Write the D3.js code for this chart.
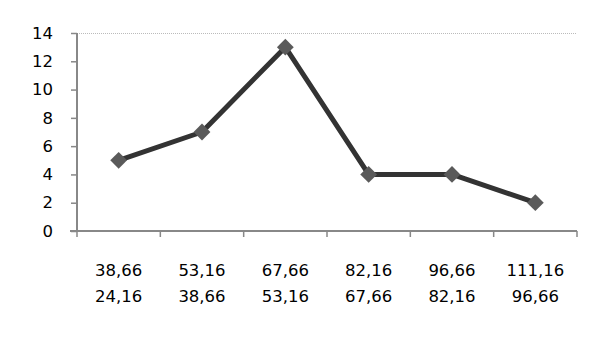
<!DOCTYPE html>
<html>
<head>
<meta charset="utf-8">
<title>chart</title>
<script src="https://cdn.jsdelivr.net/npm/d3@7"></script>
<style>
body { margin:0; background:#fff; font-family:"DejaVu Sans",Verdana,sans-serif; }
.lbl { font-size:16.5px; fill:#000; }
</style>
</head>
<body>
<svg id="chart" width="613" height="342"></svg>
<script>
// bins: upper / lower edge, count
var upper = ['38,66','53,16','67,66','82,16','96,66','111,16'];
var lower = ['24,16','38,66','53,16','67,66','82,16','96,66'];
var counts = [5, 7, 13, 4, 4, 2];
var yTicks = [0, 2, 4, 6, 8, 10, 12, 14];

var svg = d3.select('#chart');
var m = {l:77, r:36, t:33, b:111}; // plot box 77..577, 33..231
var w = 613 - m.l - m.r, h = 342 - m.t - m.b;
var g = svg.append('g').attr('transform', 'translate(' + m.l + ',' + m.t + ')');

var x = d3.scaleBand().domain(d3.range(counts.length)).range([0, w]);
var y = d3.scaleLinear().domain([0, 14]).range([h, 0]);

// top dotted gridline
g.append('line').attr('x1', 0).attr('x2', w).attr('y1', y(14) + .5).attr('y2', y(14) + .5)
  .attr('stroke', '#bbb').attr('stroke-dasharray', '1,1');

// y axis
var ya = g.append('g').call(d3.axisLeft(y).tickValues(yTicks).tickSize(6).tickPadding(18));
ya.select('.domain').attr('stroke', '#888').attr('stroke-width', 2).attr('d', 'M0,' + h + 'V0');
ya.selectAll('.tick line').attr('stroke', '#888').attr('stroke-width', 1.5);
ya.selectAll('text').attr('font-size', 16.5).attr('font-family', '"DejaVu Sans",Verdana,sans-serif').attr('fill', '#000');

// x axis, ticks at band edges
var xa = g.append('g').attr('transform', 'translate(0,' + h + ')');
xa.append('line').attr('x1', -7).attr('x2', w).attr('stroke', '#888').attr('stroke-width', 2);
xa.selectAll('line.t').data(d3.range(counts.length + 1)).enter().append('line')
  .attr('class', 't')
  .attr('x1', function(i){ return i < counts.length ? x(i) : w; })
  .attr('x2', function(i){ return i < counts.length ? x(i) : w; })
  .attr('y1', 0).attr('y2', 6).attr('stroke', '#888').attr('stroke-width', 1.5);

var cx = function(i){ return x(i) + x.bandwidth() / 2; };
xa.selectAll('text.u').data(upper).enter().append('text').attr('class', 'lbl')
  .attr('x', function(d, i){ return cx(i); }).attr('y', 45).attr('text-anchor', 'middle').text(function(d){ return d; });
xa.selectAll('text.lo').data(lower).enter().append('text').attr('class', 'lbl')
  .attr('x', function(d, i){ return cx(i); }).attr('y', 71).attr('text-anchor', 'middle').text(function(d){ return d; });

// line + diamonds
var line = d3.line().x(function(d, i){ return cx(i); }).y(function(d){ return y(d); });
g.append('path').datum(counts).attr('d', line).attr('fill', 'none')
  .attr('stroke', '#333').attr('stroke-width', 5).attr('stroke-linejoin', 'round');
g.selectAll('path.pt').data(counts).enter().append('path').attr('class', 'pt')
  .attr('d', d3.symbol().type(d3.symbolDiamond2).size(180))
  .attr('transform', function(d, i){ return 'translate(' + cx(i) + ',' + y(d) + ')'; })
  .attr('fill', '#5a5a5a');
</script>
</body>
</html>
